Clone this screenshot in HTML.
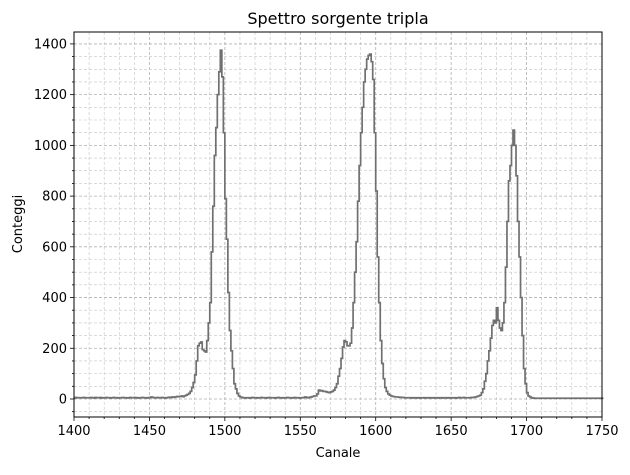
<!DOCTYPE html>
<html><head><meta charset="utf-8"><style>
body{margin:0;background:#fff;}
svg text{font-family:"DejaVu Sans","Liberation Sans",sans-serif;fill:#000;}
</style></head><body>
<svg id="chart" width="630" height="470" xmlns="http://www.w3.org/2000/svg">
<g id="grid"></g>
<path id="series" fill="none" stroke="#707070" stroke-width="1.7"/>
<rect x="74" y="32" width="528" height="385" fill="none" stroke="#000" stroke-width="1"/>
<g id="ticks"></g>
<text x="338" y="24" font-size="16" text-anchor="middle">Spettro sorgente tripla</text>
<text x="338" y="457" font-size="13" text-anchor="middle">Canale</text>
<text transform="translate(22,224) rotate(-90)" font-size="13" text-anchor="middle">Conteggi</text>
</svg>
<script>
const startChannel = 1400;
const counts = [].concat(
[4,6,5,5,5,5,6,5,5,5,5,6,5,4,6,5,5,6,4,5,5,6,5,5,4,5,6,5,5,4,5,5,6,5,5,4,5,6,5,5,6,5,4,5,5,6,5,5,4,5,6,8,6,5,5,6,5,5,6,5,4,5,6,7,6,8,7,8,10,9,10,12,9,12,15,18,22,30,45,65],
[95,150,210,220,225,195,190,185,230,300,380,580,760,960,1070,1200,1290,1375,1270,1050,790,630,420,270,190,120,60,40,22,12,8,6,5,4,5],
[5,4,5,6,5,5,4,5,5,6,5,5,4,5,6,5,5,5,4,5,6,5,5,4,5,5,6,5,5,4,5,6,5,5,4,5,5,6,8,6,5,7,8,10,12],
[12,20,35,32,33,30,30,28,26,25,28,30,35,45,60,90,120,160,205,230],
[225,210,210,220,280,380,500,620,780,920,1050,1150,1250,1300,1340,1355,1360,1330,1260,1050,820,560,380,230,140,80,45,30,20,15,12,10,9,8,8],
[7,7,6,6,5,5,5,5,5,4,5,5,4,5,4,5,5,4,5,5,4,5,5,4,5,5,4,5,5,4,5,5,4,5,5,4,5,5,4,5,6,5,5,6,5,5,5,5,6,6,7,8,10,12,15,25,40,70,100,150],
[190,240,290,310,300,360,310,280,270,300,380,520,700,860,920,1000,1060,1000,880,700,560,400,250,120,60,25,12,8,5,4,3,3,3,3,3],
[3,3,3,3,3,3,3,3,3,3,3,3,3,3,3,3,3,3,3,3,3,3,3,3,3,3,3,3,3,3,3,3,3,3,3,3,3,3,3,3,3]
);
const xTicks = [1400,1450,1500,1550,1600,1650,1700,1750];
const yTicks = [0,200,400,600,800,1000,1200,1400];
const xMin=1400,xMax=1750,yMin=-71,yMax=1447;
const L=74,R=602,T=32,B=417;
function sx(v){return L+(v-xMin)/(xMax-xMin)*(R-L);}
function sy(v){return B-(v-yMin)/(yMax-yMin)*(B-T);}
const NS="http://www.w3.org/2000/svg";
const grid=document.getElementById('grid'),ticks=document.getElementById('ticks');
function line(p,x1,y1,x2,y2,st,w,dash){const l=document.createElementNS(NS,'line');l.setAttribute('x1',x1);l.setAttribute('y1',y1);l.setAttribute('x2',x2);l.setAttribute('y2',y2);l.setAttribute('stroke',st);l.setAttribute('stroke-width',w);if(dash)l.setAttribute('stroke-dasharray',dash);p.appendChild(l);return l;}
for(let v=xMin;v<=xMax;v+=10){const x=sx(v);const major=xTicks.includes(v);
 const g=line(grid,x,T,x,B,major?'#b0b0b0':'#c4c4c4',major?0.8:0.6,'3,2');
 
 
 const t=line(ticks,x,B,x,B+(major?4:2),'#000',0.8);
 
 }
for(let v=-50;v<=yMax;v+=50){const y=sy(v);const major=yTicks.includes(v);
 const g=line(grid,L,y,R,y,major?'#b0b0b0':'#c4c4c4',major?0.8:0.6,'3,2');
 
 
 const t=line(ticks,L,y,L-(major?4:2),y,'#000',0.8);
 
 }
xTicks.forEach(v=>{const t=document.createElementNS(NS,'text');t.setAttribute('x',sx(v));t.setAttribute('y',B+18);t.setAttribute('font-size','13');t.setAttribute('text-anchor','middle');t.textContent=v;
 
 
 ticks.appendChild(t);});
yTicks.forEach(v=>{const t=document.createElementNS(NS,'text');t.setAttribute('x',L-7);t.setAttribute('y',sy(v)+4.5);t.setAttribute('font-size','13');t.setAttribute('text-anchor','end');t.textContent=v;
 
 
 ticks.appendChild(t);});
let d='';
counts.forEach((c,i)=>{const x0=sx(startChannel+i),x1=sx(startChannel+i+1),y=sy(c);d+=(i===0?'M':'L')+x0.toFixed(2)+','+y.toFixed(2)+'L'+x1.toFixed(2)+','+y.toFixed(2);});
document.getElementById('series').setAttribute('d',d);
</script>
</body></html>
